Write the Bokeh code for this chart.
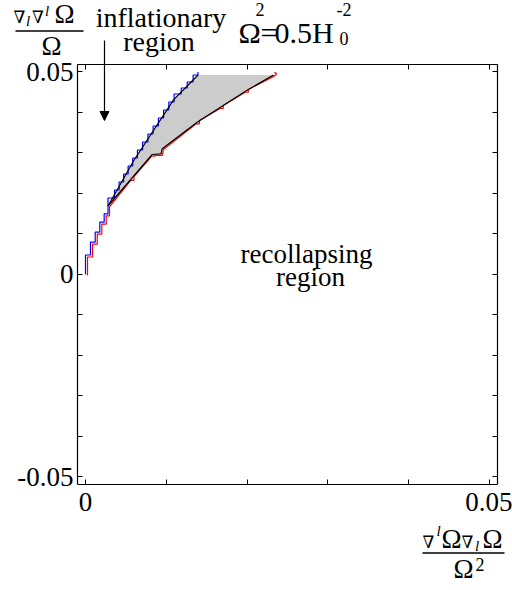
from bokeh.plotting import figure
from bokeh.models import Range1d, LinearAxis, FixedTicker, Label, Arrow, NormalHead
from bokeh.embed import file_html
from bokeh.resources import INLINE

# ---- data ----
# blue staircase: lower stair + stair along the upper boundary
blue_x = [0, 0, 0.000619, 0.000619, 0.00120, 0.00120, 0.00177, 0.00177, 0.00231, 0.00231,
          0.002785, 0.002785, 0.003592, 0.003592, 0.004161, 0.004161, 0.004718, 0.004718,
          0.005275, 0.005275, 0.005844, 0.005844, 0.006426, 0.006426, 0.007069, 0.007069,
          0.007725, 0.007725, 0.008369, 0.008369, 0.009025, 0.009025, 0.009668, 0.009668,
          0.010312, 0.010312, 0.010968, 0.010968, 0.011847, 0.011847, 0.012589, 0.012589,
          0.013319, 0.013319, 0.013923, 0.013923]
blue_y = [0, 0.00481, 0.00481, 0.00798, 0.00798, 0.01044, 0.01044, 0.01291, 0.01291, 0.01499,
          0.01499, 0.018889, 0.018889, 0.020864, 0.020864, 0.022840, 0.022840, 0.024815,
          0.024815, 0.026790, 0.026790, 0.028765, 0.028765, 0.030741, 0.030741, 0.032716,
          0.032716, 0.034691, 0.034691, 0.036667, 0.036667, 0.038642, 0.038642, 0.040617,
          0.040617, 0.042593, 0.042593, 0.044568, 0.044568, 0.046049, 0.046049, 0.047531,
          0.047531, 0.049259, 0.049259, 0.04999]

# red staircase: lower stair + path along the lower boundary
red_x = [0.00025, 0.00025, 0.00087, 0.00087, 0.00145, 0.00145, 0.00202, 0.00202, 0.00256, 0.00256,
         0.00297, 0.00297, 0.00560, 0.00600, 0.00600, 0.00820, 0.00860, 0.00860, 0.00951,
         0.00964, 0.01370, 0.01410, 0.01410, 0.01665, 0.01705, 0.01705, 0.01975, 0.02015,
         0.02015, 0.02340, 0.02365, 0.02340]
red_y = [-0.00025, 0.00432, 0.00432, 0.00748, 0.00748, 0.00995, 0.00995, 0.01242, 0.01242, 0.01449,
         0.01449, 0.01671, 0.02326, 0.02326, 0.02420, 0.02925, 0.02925, 0.02943, 0.02943,
         0.03084, 0.03720, 0.03720, 0.03800, 0.04100, 0.04100, 0.04175, 0.04500, 0.04500,
         0.04570, 0.04905, 0.04950, 0.05000]

# boundaries of the shaded (inflationary) region
upper_x = [0.002785, 0.005978, 0.010891, 0.013923]
upper_y = [0.016914, 0.028148, 0.043136, 0.049259]
lower_x = [0.002785, 0.008255, 0.009344, 0.009493, 0.013824, 0.016708, 0.019802, 0.023267]
lower_y = [0.016914, 0.029630, 0.029802, 0.031037, 0.037605, 0.041309, 0.045259, 0.049259]

x_ticks = [0.0, 0.05]
x_all = [0.0, 0.01, 0.02, 0.03, 0.04, 0.05]
x_minor = [0.01, 0.02, 0.03, 0.04]
y_ticks = [-0.05, 0.0, 0.05]
y_all = [-0.05, -0.04, -0.03, -0.02, -0.01, 0.0, 0.01, 0.02, 0.03, 0.04, 0.05]
y_minor = [-0.04, -0.03, -0.02, -0.01, 0.01, 0.02, 0.03, 0.04]
x_tick_labels = {0: "0", 0.05: "0.05"}
y_tick_labels = {-0.05: "-0.05", 0: "0", 0.05: "0.05"}

# plot box limits (data units)
X0, X1 = -0.00099, 0.05099
Y0, Y1 = -0.05185, 0.05185

SERIF = "'Liberation Serif', 'DejaVu Serif', serif"
MATH = "'DejaVu Serif', serif"

p = figure(width=512, height=590, output_backend="svg", toolbar_location=None,
           x_range=Range1d(-0.010520, 0.052847), y_range=Range1d(-0.078025, 0.067654),
           min_border=0, background_fill_color="white", border_fill_color="white")
p.xgrid.visible = False
p.ygrid.visible = False
p.outline_line_color = None

def style_axis(ax, ticker, loc, bounds):
    ax.ticker = ticker
    ax.fixed_location = loc
    ax.bounds = bounds
    ax.major_tick_in = 5
    ax.major_tick_out = 0
    ax.minor_tick_in = 5
    ax.minor_tick_out = 0
    ax.axis_line_color = "black"
    ax.axis_line_width = 1.2
    ax.major_tick_line_color = "black"
    ax.minor_tick_line_color = "black"
    ax.major_label_text_font = SERIF
    ax.major_label_text_font_size = "27px"
    ax.major_label_text_color = "black"

xa = p.xaxis[0]
style_axis(xa, FixedTicker(ticks=x_ticks, minor_ticks=x_minor), Y0, (X0, X1))
xa.major_label_overrides = x_tick_labels
xa.major_label_standoff = 9
ya = p.yaxis[0]
style_axis(ya, FixedTicker(ticks=y_ticks, minor_ticks=y_minor), X0, (Y0, Y1))
ya.major_label_overrides = y_tick_labels
ya.major_label_standoff = 4

top = LinearAxis()
style_axis(top, FixedTicker(ticks=[], minor_ticks=x_all), Y1, (X0, X1))
p.add_layout(top, "above")
right = LinearAxis()
style_axis(right, FixedTicker(ticks=[], minor_ticks=y_all), X1, (Y0, Y1))
p.add_layout(right, "right")

# shaded region
p.patch(upper_x + lower_x[::-1], upper_y + lower_y[::-1], fill_color="#cccccc", line_color=None)
p.line(red_x, red_y, line_color="red", line_width=1.2)
p.line(blue_x, blue_y, line_color="blue", line_width=1.2)
p.line(upper_x, upper_y, line_color="black", line_width=1.2)
p.line(lower_x, lower_y, line_color="black", line_width=1.2)

def lab(x, y, text, size, align="left", font=SERIF, style="normal"):
    p.add_layout(Label(x=x, y=y, text=text, text_font=font, text_font_size=f"{size}px",
                       text_font_style=style, text_align=align, text_baseline="middle",
                       text_color="black"))

def bar(x0, x1, y):
    p.add_layout(Arrow(x_start=x0, y_start=y, x_end=x1, y_end=y, end=None,
                       line_color="black", line_width=1.3))

# y-axis title (fraction)
lab(-0.008911, 0.063654, "∇", 17, font=MATH)
lab(-0.007364, 0.062494, "l", 15, style="italic")
lab(-0.006621, 0.063654, "∇", 17, font=MATH)
lab(-0.005012, 0.064963, "l", 15, style="italic")
lab(-0.003837, 0.064247, "Ω", 27)
bar(-0.008663, -0.000248, 0.060123)
lab(-0.004208, 0.056346, "Ω", 27, align="center")

# inflationary region annotation
lab(0.009344, 0.063407, "inflationary", 28, align="center")
lab(0.009097, 0.057654, "region", 28, align="center")
p.add_layout(Arrow(x_start=0.002351, y_start=0.057778, x_end=0.002351, y_end=0.038025,
                   line_color="black", line_width=1.2,
                   end=NormalHead(size=9, fill_color="black", line_color="black")))

# Omega^2 = 0.5 H0^-2
lab(0.018936, 0.059803, "Ω", 30)
lab(0.021040, 0.065432, "2", 18)
lab(0.021658, 0.059803, "=", 30)
lab(0.023391, 0.059803, "0.5H", 30)
lab(0.031064, 0.065432, "-2", 18)
lab(0.031435, 0.058296, "0", 18)

# recollapsing region
lab(0.027351, 0.004988, "recollapsing", 27, align="center")
lab(0.027847, -0.000691, "region", 27, align="center")

# x-axis title (fraction)
lab(0.041708, -0.065975, "∇", 17, font=MATH)
lab(0.043441, -0.063432, "l", 15, style="italic")
lab(0.044059, -0.065383, "Ω", 27)
lab(0.046535, -0.065975, "∇", 17, font=MATH)
lab(0.048205, -0.067136, "l", 15, style="italic")
lab(0.049134, -0.065383, "Ω", 27)
bar(0.041708, 0.051856, -0.068765)
lab(0.045545, -0.072790, "Ω", 27)
lab(0.048267, -0.071580, "2", 18)

open("out.html", "w").write(file_html(p, INLINE))
